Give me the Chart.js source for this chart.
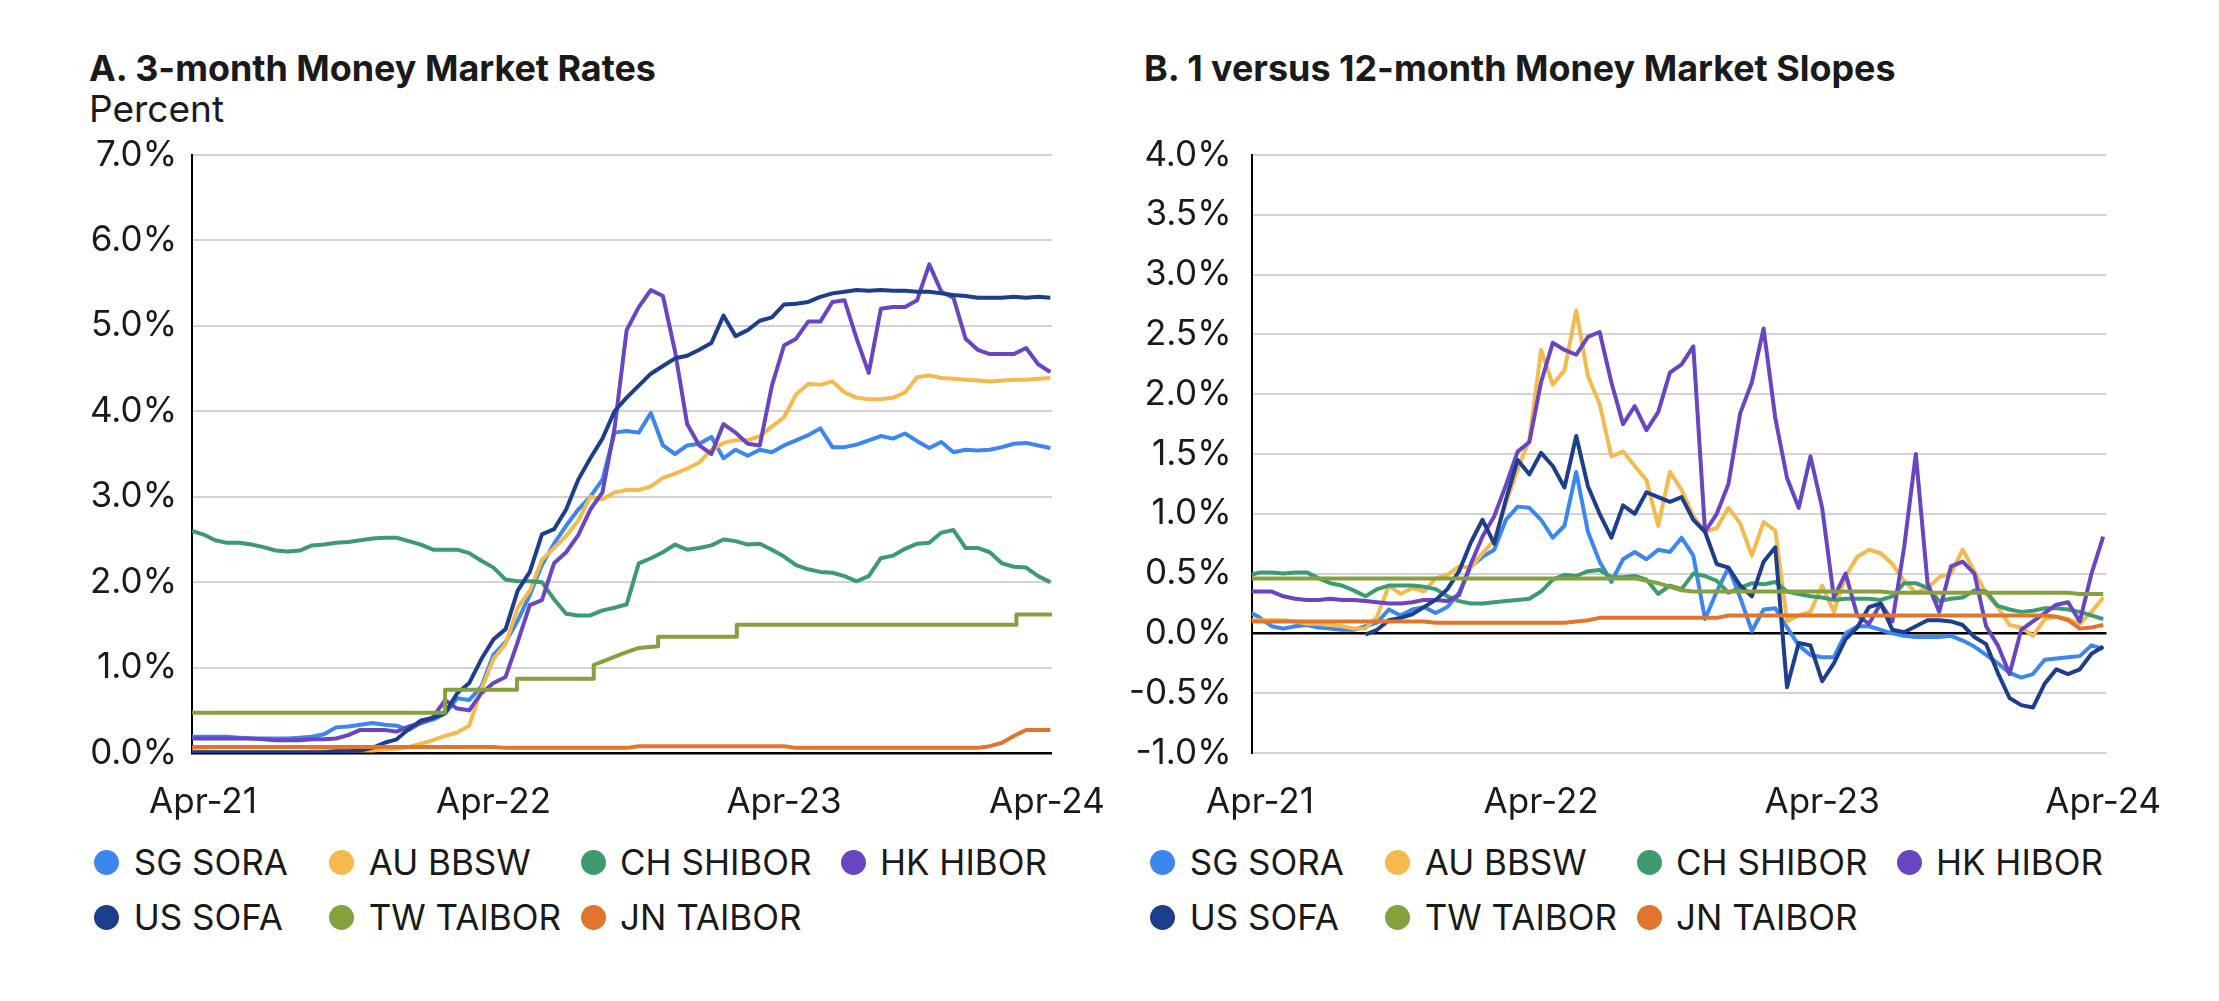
<!DOCTYPE html>
<html><head><meta charset="utf-8">
<script src="https://cdn.jsdelivr.net/npm/chart.js@4.4.1/dist/chart.umd.min.js"></script>
<style>
html,body{margin:0;padding:0;background:#fff;}
body{width:2219px;height:1001px;position:relative;overflow:hidden;font-family:Inter,"Liberation Sans",sans-serif;color:#1a1a1a;}
.t{position:absolute;white-space:nowrap;line-height:1;}
.title{font-size:35.9px;font-weight:700;}
.sub{font-size:37px;font-weight:400;}
.lg{position:absolute;font-size:35px;line-height:1;white-space:nowrap;}
.dot{position:absolute;width:25px;height:25px;border-radius:50%;}
canvas{position:absolute;top:0;}
</style></head><body>
<div class="t title" style="left:89px;top:50.7px">A. 3-month Money Market Rates</div>
<div class="t sub" style="left:89px;top:89.7px">Percent</div>
<div class="t title" style="left:1144px;top:50.7px">B. 1 versus 12-month Money Market Slopes</div>
<canvas id="cA" width="1110" height="841" style="left:0"></canvas>
<canvas id="cB" width="1109" height="841" style="left:1110px"></canvas>
<script>
// ---- categories / labels ----
const seriesNames = ["SG SORA","AU BBSW","CH SHIBOR","HK HIBOR","US SOFA","TW TAIBOR","JN TAIBOR"];
const seriesColors = ["#3B87EE","#F4BA4E","#3E9A6F","#6A45C2","#1D3E8A","#85A13E","#E0762B"];
const tickLabels = ["Apr-21","Apr-22","Apr-23","Apr-24"];
// x positions: months since Apr-21 (half-month sampling)
const monthsA = [-0.45]; for (let k = 0; k <= 70; k++) monthsA.push(k * 0.5);
const monthsB = [-0.36]; for (let k = 0; k <= 72; k++) monthsB.push(k * 0.5);

// ---- Panel A: 3-month money market rates (%) ----
const sgA = [0.19,0.19,0.19,0.19,0.18,0.17,0.17,0.17,0.17,0.18,
0.19,0.22,0.30,0.31,0.33,0.35,0.33,0.32,0.27,0.35,
0.39,0.46,0.64,0.62,0.78,1.15,1.30,1.55,1.85,2.20,
2.45,2.66,2.85,3.00,3.20,3.75,3.77,3.75,3.98,3.60,
3.50,3.60,3.62,3.70,3.45,3.55,3.48,3.55,3.52,3.60,
3.66,3.72,3.80,3.58,3.58,3.61,3.66,3.71,3.68,3.74,
3.65,3.57,3.64,3.52,3.55,3.54,3.55,3.58,3.62,3.63,
3.60,3.57];
const auA = [0.02,0.02,0.01,0.01,0.01,0.01,0.01,0.01,0.01,0.01,
0.02,0.02,0.02,0.03,0.03,0.03,0.04,0.05,0.07,0.11,
0.15,0.20,0.24,0.32,0.75,1.10,1.28,1.70,1.90,2.26,
2.40,2.54,2.72,3.00,2.97,3.05,3.08,3.08,3.12,3.22,
3.27,3.33,3.40,3.55,3.63,3.66,3.66,3.71,3.82,3.93,
4.20,4.32,4.31,4.35,4.22,4.16,4.14,4.14,4.16,4.22,
4.40,4.42,4.39,4.38,4.37,4.36,4.35,4.36,4.37,4.37,
4.38,4.39];
const chA = [2.60,2.56,2.49,2.46,2.46,2.44,2.41,2.37,2.36,2.37,
2.43,2.44,2.46,2.47,2.49,2.51,2.52,2.52,2.48,2.44,
2.38,2.38,2.38,2.34,2.25,2.17,2.03,2.01,2.01,2.00,
1.80,1.63,1.61,1.61,1.67,1.70,1.74,2.22,2.28,2.35,
2.44,2.38,2.40,2.43,2.50,2.48,2.44,2.45,2.38,2.30,
2.20,2.15,2.12,2.11,2.07,2.01,2.07,2.28,2.31,2.39,
2.45,2.46,2.58,2.61,2.40,2.40,2.35,2.22,2.18,2.17,
2.07,2.00];
const hkA = [0.17,0.17,0.17,0.17,0.17,0.17,0.16,0.15,0.15,0.15,
0.16,0.16,0.17,0.21,0.27,0.27,0.27,0.25,0.31,0.35,
0.42,0.62,0.52,0.50,0.70,0.82,0.89,1.30,1.73,1.79,
2.22,2.35,2.55,2.85,3.05,3.80,4.95,5.22,5.42,5.35,
4.70,3.85,3.60,3.50,3.85,3.75,3.62,3.60,4.30,4.77,
4.85,5.05,5.05,5.28,5.30,4.85,4.45,5.20,5.22,5.22,
5.30,5.72,5.40,5.33,4.85,4.72,4.67,4.67,4.67,4.74,
4.55,4.46];
const usA = [0.01,0.01,0.01,0.01,0.01,0.01,0.01,0.01,0.01,0.01,
0.01,0.01,0.02,0.02,0.03,0.06,0.12,0.16,0.28,0.38,
0.41,0.47,0.70,0.82,1.10,1.33,1.45,1.90,2.12,2.56,
2.62,2.85,3.20,3.45,3.68,4.00,4.16,4.30,4.44,4.53,
4.62,4.65,4.72,4.80,5.12,4.88,4.95,5.06,5.10,5.25,
5.26,5.28,5.34,5.38,5.40,5.42,5.41,5.42,5.41,5.41,
5.40,5.40,5.38,5.36,5.35,5.33,5.33,5.33,5.34,5.33,
5.34,5.33];
// TW TAIBOR moves in steps: its own change-point months
const twAMonths = [-0.45,10.0,10.0,12.97,12.97,16.14,16.14,16.5,17.3,18.0,18.8,18.8,22.05,22.05,33.6,33.6,35.07];
const twA = [0.47,0.47,0.74,0.74,0.87,0.87,1.03,1.07,1.16,1.23,1.25,1.36,1.36,1.50,1.50,1.62,1.62];
const jnA = [0.07,0.07,0.07,0.07,0.07,0.07,0.07,0.07,0.07,0.07,
0.07,0.07,0.07,0.07,0.07,0.07,0.07,0.07,0.07,0.07,
0.07,0.07,0.07,0.07,0.07,0.07,0.06,0.06,0.06,0.06,
0.06,0.06,0.06,0.06,0.06,0.06,0.06,0.08,0.08,0.08,
0.08,0.08,0.08,0.08,0.08,0.08,0.08,0.08,0.08,0.08,
0.06,0.06,0.06,0.06,0.06,0.06,0.06,0.06,0.06,0.06,
0.06,0.06,0.06,0.06,0.06,0.06,0.08,0.12,0.20,0.27,
0.27,0.27];

// ---- Panel B: 1 vs 12-month slopes (%) ----
const sgB = [0.17,0.13,0.06,0.04,0.06,0.07,0.05,0.04,0.03,0.03,
0.06,0.09,0.20,0.15,0.20,0.22,0.17,0.22,0.34,0.56,
0.64,0.70,0.95,1.06,1.05,0.95,0.80,0.90,1.35,0.85,
0.60,0.43,0.62,0.68,0.62,0.70,0.68,0.80,0.65,0.12,
0.35,0.55,0.30,0.02,0.20,0.21,0.05,-0.10,-0.18,-0.20,
-0.20,0.00,0.06,0.06,0.03,0.00,-0.02,-0.03,-0.03,-0.03,
-0.02,-0.06,-0.11,-0.18,-0.25,-0.33,-0.37,-0.34,-0.22,-0.21,
-0.20,-0.19,-0.10,-0.13];
const auB = [0.11,0.11,0.11,0.11,0.10,0.08,0.08,0.07,0.06,0.04,
0.04,0.14,0.40,0.33,0.38,0.35,0.46,0.49,0.56,0.55,
0.67,0.78,1.09,1.37,1.62,2.37,2.08,2.20,2.70,2.15,
1.92,1.48,1.52,1.40,1.28,0.90,1.35,1.20,0.98,0.85,
0.88,1.05,0.92,0.65,0.93,0.86,0.10,0.15,0.18,0.40,
0.18,0.48,0.64,0.70,0.67,0.58,0.44,0.34,0.38,0.47,
0.50,0.70,0.52,0.33,0.22,0.07,0.05,-0.02,0.12,0.14,
0.12,0.08,0.18,0.30];
const chB = [0.49,0.51,0.51,0.50,0.51,0.51,0.46,0.42,0.40,0.36,
0.31,0.37,0.40,0.40,0.40,0.39,0.37,0.31,0.27,0.25,
0.25,0.26,0.27,0.28,0.29,0.35,0.45,0.49,0.48,0.52,
0.53,0.47,0.47,0.48,0.45,0.33,0.40,0.37,0.50,0.48,
0.44,0.34,0.38,0.42,0.41,0.43,0.35,0.33,0.31,0.30,
0.28,0.29,0.29,0.29,0.28,0.31,0.42,0.42,0.38,0.27,
0.29,0.30,0.36,0.35,0.23,0.20,0.18,0.19,0.21,0.21,
0.20,0.18,0.15,0.12];
const hkB = [0.35,0.35,0.35,0.31,0.29,0.28,0.28,0.29,0.28,0.28,
0.27,0.26,0.25,0.25,0.26,0.28,0.28,0.27,0.32,0.58,
0.81,0.98,1.24,1.52,1.60,2.10,2.43,2.37,2.33,2.48,
2.52,2.10,1.75,1.90,1.70,1.85,2.18,2.25,2.40,0.85,
1.00,1.25,1.84,2.10,2.55,1.80,1.30,1.05,1.48,1.05,
0.30,0.50,0.15,0.08,0.25,0.10,0.72,1.50,0.42,0.18,
0.56,0.60,0.50,0.06,-0.10,-0.34,0.03,0.10,0.17,0.24,
0.26,0.10,0.50,0.81];
const usB = [null,null,null,null,null,null,null,null,null,null,
-0.01,0.03,0.11,0.13,0.16,0.22,0.28,0.37,0.52,0.76,
0.95,0.75,1.12,1.45,1.33,1.51,1.40,1.22,1.65,1.23,
1.00,0.80,1.07,1.00,1.18,1.14,1.10,1.14,0.95,0.85,
0.58,0.55,0.40,0.31,0.60,0.72,-0.45,-0.08,-0.10,-0.40,
-0.25,-0.05,0.05,0.22,0.25,0.03,0.01,0.06,0.11,0.11,
0.10,0.07,-0.03,-0.09,-0.33,-0.54,-0.60,-0.62,-0.42,-0.30,
-0.34,-0.30,-0.17,-0.11];
const twB = [0.46,0.46,0.46,0.46,0.46,0.46,0.46,0.46,0.46,0.46,
0.46,0.46,0.46,0.46,0.46,0.46,0.46,0.46,0.46,0.46,
0.46,0.46,0.46,0.46,0.46,0.46,0.46,0.46,0.46,0.46,
0.46,0.46,0.46,0.46,0.44,0.42,0.39,0.36,0.35,0.35,
0.35,0.35,0.35,0.35,0.35,0.35,0.35,0.35,0.35,0.35,
0.35,0.35,0.35,0.35,0.35,0.34,0.34,0.34,0.34,0.34,
0.34,0.34,0.34,0.34,0.34,0.34,0.34,0.34,0.34,0.34,
0.34,0.33,0.33,0.33];
const jnB = [0.10,0.10,0.10,0.10,0.10,0.10,0.10,0.10,0.10,0.10,
0.10,0.10,0.10,0.10,0.10,0.10,0.09,0.09,0.09,0.09,
0.09,0.09,0.09,0.09,0.09,0.09,0.09,0.09,0.10,0.11,
0.13,0.13,0.13,0.13,0.13,0.13,0.13,0.13,0.13,0.13,
0.13,0.15,0.15,0.15,0.15,0.15,0.15,0.15,0.15,0.15,
0.15,0.15,0.15,0.15,0.15,0.15,0.15,0.15,0.15,0.15,
0.15,0.15,0.15,0.15,0.15,0.15,0.15,0.15,0.15,0.14,
0.11,0.04,0.05,0.07];

const seriesA = [[monthsA, sgA], [monthsA, auA], [monthsA, chA], [monthsA, hkA], [monthsA, usA], [twAMonths, twA], [monthsA, jnA]];
const seriesB = [[monthsB, sgB], [monthsB, auB], [monthsB, chB], [monthsB, hkB], [monthsB, usB], [monthsB, twB], [monthsB, jnB]];
const ticksA = [0, 12, 24, 34.86];
const ticksB = [0, 12, 24, 36];
const yTicksA = [0,1,2,3,4,5,6,7];
const yTicksB = [-1,-0.5,0,0.5,1,1.5,2,2.5,3,3.5,4];

Chart.defaults.font.family = 'Inter';
Chart.defaults.color = '#1a1a1a';

function makeChart(id, series, cfg) {
  const datasets = series.map(([xs, vals], i) => ({
    label: seriesNames[i],
    data: xs.map((m, k) => ({x: m, y: vals[k]})),
    borderColor: seriesColors[i],
    backgroundColor: seriesColors[i],
    borderWidth: 4,
    pointRadius: 0,
    tension: 0,
    fill: false,
    spanGaps: false,
    borderJoinStyle: 'round',
    order: 6 - i
  }));
  return new Chart(document.getElementById(id), {
    type: 'line',
    data: {datasets},
    options: {
      responsive: false, animation: false, events: [],
      devicePixelRatio: 1,
      layout: {padding: {top: 155, right: cfg.padR, left: 0, bottom: 0}},
      plugins: {legend: {display: false}, tooltip: {enabled: false}, title: {display: false}},
      scales: {
        x: {
          type: 'linear', min: cfg.xMin, max: cfg.xMax,
          grid: {display: false, drawTicks: false},
          border: {display: false},
          afterBuildTicks: s => { s.ticks = cfg.xTicks.map(v => ({value: v})); },
          afterFit: s => { s.height = 88; s.paddingLeft = 0; s.paddingRight = 0; },
          ticks: {
            autoSkip: false, maxRotation: 0, minRotation: 0, padding: 28,
            font: {size: 35}, color: '#1a1a1a',
            callback: (v, i) => tickLabels[i]
          }
        },
        y: {
          min: cfg.yMin, max: cfg.yMax,
          afterBuildTicks: s => { s.ticks = cfg.yTicks.map(v => ({value: v})); },
          afterFit: s => { s.width = cfg.yW; s.paddingTop = 0; s.paddingBottom = 0; },
          grid: {
            drawTicks: false,
            color: c => (c.tick && Math.abs(c.tick.value) < 1e-9) ? '#000000' : '#d3d3d3',
            lineWidth: c => (c.tick && Math.abs(c.tick.value) < 1e-9) ? 2.5 : 2
          },
          border: {display: true, color: '#000000', width: 2},
          ticks: {
            padding: cfg.yPad, font: {size: 35}, color: '#1a1a1a',
            callback: v => v.toFixed(1) + '%'
          }
        }
      }
    }
  });
}

makeChart('cA', seriesA, {
  xMin: -0.454, xMax: 35.07, xTicks: ticksA, yMin: 0, yMax: 7, yTicks: yTicksA,
  yW: 192, yPad: 15, padR: 58
});
makeChart('cB', seriesB, {
  xMin: -0.363, xMax: 36.14, xTicks: ticksB, yMin: -1, yMax: 4, yTicks: yTicksB,
  yW: 141.5, yPad: 20, padR: 112.5
});

// ---- HTML legends ----
const legCols = [106.7, 341.7, 593, 853];
const legRows = [862.7, 917.3];
function makeLegend(offsetX) {
  seriesNames.forEach((name, i) => {
    const row = i < 4 ? 0 : 1, col = i < 4 ? i : i - 4;
    const cx = legCols[col] + offsetX, cy = legRows[row];
    const d = document.createElement('div');
    d.className = 'dot';
    d.style.left = (cx - 12.5) + 'px'; d.style.top = (cy - 12.5) + 'px';
    d.style.background = seriesColors[i];
    document.body.appendChild(d);
    const t = document.createElement('div');
    t.className = 'lg';
    t.textContent = name;
    t.style.left = (cx + 27) + 'px'; t.style.top = (cy - 17.5) + 'px';
    document.body.appendChild(t);
  });
}
makeLegend(0);
makeLegend(1056);
</script>
</body></html>
